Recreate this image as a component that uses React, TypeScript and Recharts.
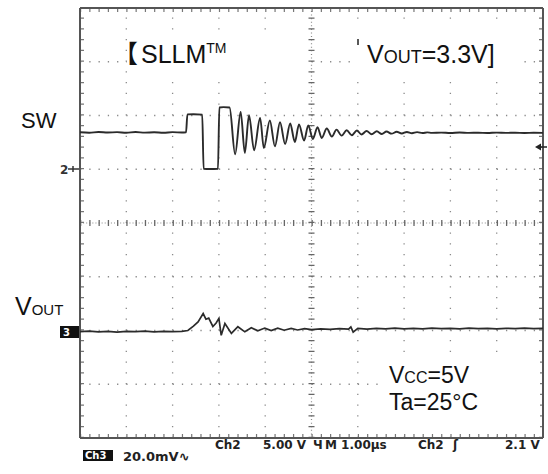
import React from 'react';
import { LineChart, Line, XAxis, YAxis, ReferenceLine } from 'recharts';

// SW trace (Ch2, 5 V/div), time in µs (1 µs/div)
const swTime = [
  0, 0.2, 0.4, 0.6, 0.8, 1.0, 1.2, 1.4, 1.6, 1.8, 2.0, 2.2, 2.29,
  2.32, 2.45, 2.64, 2.67, 2.8, 2.98, 3.01, 3.1, 3.23,
  3.35, 3.47, 3.56, 3.65, 3.76, 3.89, 3.97, 4.1, 4.21, 4.32, 4.43, 4.54, 4.64, 4.73,
  4.84, 4.93, 5.03, 5.13, 5.22, 5.33, 5.44, 5.54, 5.65, 5.76, 5.87, 5.98, 6.08, 6.19,
  6.3, 6.41, 6.52, 6.62, 6.73, 6.84, 6.95, 7.06, 7.17, 7.28, 7.4, 7.5, 7.6,
  7.8, 8.0, 8.2, 8.4, 8.6, 8.8, 9.0, 9.2, 9.4, 9.6, 9.8, 10,
];
const swVolts = [
  3.44, 3.4, 3.47, 3.42, 3.45, 3.39, 3.46, 3.41, 3.44, 3.4, 3.45, 3.42, 3.44,
  5.1, 5.12, 5.08, 0.04, 0.02, 0.05, 5.75, 5.78, 5.74,
  1.4, 5.33, 1.52, 5.02, 1.77, 4.77, 1.98, 4.53, 2.14, 4.37, 2.35, 4.25, 2.54, 4.16,
  2.67, 4.07, 2.82, 3.91, 2.91, 3.79, 3.04, 3.69, 3.13, 3.63, 3.16, 3.6, 3.23, 3.56,
  3.26, 3.53, 3.28, 3.51, 3.31, 3.49, 3.33, 3.47, 3.35, 3.45, 3.37, 3.43, 3.38,
  3.41, 3.37, 3.42, 3.38, 3.4, 3.37, 3.41, 3.38, 3.4, 3.37, 3.4, 3.38,
];

// VOUT trace (Ch3, 20 mV/div, AC)
const voutTime = [
  0, 0.2, 0.4, 0.6, 0.8, 1.0, 1.2, 1.4, 1.6, 1.8, 2.0, 2.2, 2.33,
  2.45, 2.55, 2.66, 2.72, 2.78, 2.87, 2.94, 3.0, 3.05, 3.13, 3.27, 3.41, 3.56,
  3.7, 3.84, 3.99, 4.13, 4.27, 4.41, 4.56, 4.7, 4.85, 5.0, 5.2, 5.4, 5.6, 5.8,
  5.85, 5.9, 6.0, 6.2, 6.4, 6.6, 6.8, 7.0, 7.2, 7.4, 7.6, 7.8, 8.0, 8.2, 8.4,
  8.6, 8.8, 9.0, 9.2, 9.4, 9.6, 9.8, 10,
];
const voutMv = [
  -0.4, -0.2, -0.5, -0.3, -0.6, -0.3, -0.4, -0.2, -0.5, -0.3, -0.4, -0.3, 0.0,
  1.6, 3.2, 6.3, 4.2, 4.6, 1.5, 2.8, 4.5, -1.8, 2.6, -1.1, 1.4, -0.5,
  1.0, -0.1, 0.9, 0.0, 0.9, 0.1, 0.8, 0.2, 0.7, 0.3, 0.6, 0.4, 0.7, 0.5,
  1.3, -0.6, 0.8, 0.5, 0.8, 0.6, 0.9, 0.6, 0.8, 0.6, 0.9, 0.7, 0.8, 0.6, 0.9,
  0.7, 0.8, 0.6, 0.8, 0.7, 0.9, 0.7, 0.8,
];

const gridX = [1, 2, 3, 4, 6, 7, 8, 9];
const gridY = [10, 5, 0, -10, -15, -20];

const swData = swTime.map((t, i) => ({ t, v: swVolts[i] }));
const voutData = voutTime.map((t, i) => ({ t, v: voutMv[i] }));

const sans = '"Liberation Sans", Arial, sans-serif';
const scope = '"DejaVu Sans", sans-serif';

const App = () => {
  return (
    <div style={{ position: 'absolute', left: 0, top: 0, width: 548, height: 474, background: '#fff' }}>
      <LineChart width={548} height={474} margin={{ top: 8, right: 5, bottom: 36, left: 80 }}>
        <XAxis type="number" dataKey="t" domain={[0, 10]} hide allowDataOverflow />
        <YAxis yAxisId="sw" domain={[-25, 15]} hide allowDataOverflow />
        <YAxis yAxisId="vo" domain={[-40, 120]} hide allowDataOverflow />

        {/* dotted graticule */}
        {gridX.map((x) => (
          <ReferenceLine key={'gx' + x} x={x} yAxisId="sw" stroke="#8a8a8a" strokeWidth={1.3} strokeDasharray="1.3 9.45" />
        ))}
        {gridY.map((y) => (
          <ReferenceLine key={'gy' + y} y={y} yAxisId="sw" stroke="#8a8a8a" strokeWidth={1.3} strokeDasharray="1.3 7.96" />
        ))}
        {/* centre cross with minor ticks */}
        <ReferenceLine x={5} yAxisId="sw" stroke="#8a8a8a" strokeWidth={1.2} strokeDasharray="1 2.58" />
        <ReferenceLine y={-5} yAxisId="sw" stroke="#8a8a8a" strokeWidth={1.2} strokeDasharray="1 2.09" />
        <ReferenceLine x={5} yAxisId="sw" stroke="#666" strokeWidth={6} strokeDasharray="1.3 9.45" />
        <ReferenceLine y={-5} yAxisId="sw" stroke="#666" strokeWidth={6} strokeDasharray="1.3 7.96" />
        {/* border ticks */}
        <ReferenceLine y={14.81} yAxisId="sw" stroke="#777" strokeWidth={4} strokeDasharray="1.2 8.06" />
        <ReferenceLine y={-24.81} yAxisId="sw" stroke="#777" strokeWidth={4} strokeDasharray="1.2 8.06" />
        <ReferenceLine x={0.043} yAxisId="sw" stroke="#777" strokeWidth={4} strokeDasharray="1.2 9.55" />
        <ReferenceLine x={9.957} yAxisId="sw" stroke="#777" strokeWidth={4} strokeDasharray="1.2 9.55" />
        {/* border */}
        <ReferenceLine y={15} yAxisId="sw" stroke="#555" strokeWidth={2} />
        <ReferenceLine y={-25} yAxisId="sw" stroke="#555" strokeWidth={2} />
        <ReferenceLine x={0} yAxisId="sw" stroke="#555" strokeWidth={2} />
        <ReferenceLine x={10} yAxisId="sw" stroke="#555" strokeWidth={2} />

        <Line
          yAxisId="sw"
          data={swData}
          dataKey="v"
          type="monotone"
          stroke="#2b2b2b"
          strokeWidth={1.9}
          dot={false}
          isAnimationActive={false}
        />
        <Line
          yAxisId="vo"
          data={voutData}
          dataKey="v"
          type="linear"
          stroke="#2b2b2b"
          strokeWidth={1.7}
          dot={false}
          isAnimationActive={false}
        />
      </LineChart>

      <svg width={548} height={474} style={{ position: 'absolute', left: 0, top: 0, pointerEvents: 'none' }}>
        {/* label backgrounds */}
        <rect x={127} y={35} width={178} height={40} fill="#fff" />
        <rect x={357} y={27} width={166} height={50} fill="#fff" />
        <rect x={384} y={360} width={156} height={70} fill="#fff" />

        <text x={113} y={63} fontFamily='"Noto Sans CJK JP"' fontSize={25} fill="#111">【</text>
        <text x={141} y={63} fontFamily={sans} fontSize={25} fill="#111">
          SLLM<tspan fontSize={14} dy={-10}>TM</tspan>
        </text>
        <line x1={358} y1={39} x2={358} y2={45} stroke="#222" strokeWidth={1.5} />
        <text x={367} y={63} fontFamily={sans} fontSize={25} fill="#111">
          V<tspan fontSize={18}>OUT</tspan>=3.3V]
        </text>

        <text x={21} y={128} fontFamily={sans} fontSize={22} fill="#111">SW</text>
        <text x={15} y={315} fontFamily={sans} fontSize={25} fill="#111">
          V<tspan fontSize={15}>OUT</tspan>
        </text>

        <text x={389} y={383} fontFamily={sans} fontSize={23} fill="#111">
          V<tspan fontSize={16}>CC</tspan>=5V
        </text>
        <text x={389} y={410} fontFamily={sans} fontSize={23} fill="#111">Ta=25°C</text>

        {/* channel markers */}
        <text x={60} y={174} fontFamily={scope} fontSize={12} fontWeight="bold" fill="#333">2</text>
        <line x1={68} y1={169} x2={79} y2={169} stroke="#333" strokeWidth={1.5} />
        <line x1={73} y1={166} x2={73} y2={172} stroke="#333" strokeWidth={1.5} />
        <rect x={60} y={326} width={19} height={12} fill="#111" />
        <text x={63} y={336} fontFamily={scope} fontSize={10} fontWeight="bold" fill="#fff">3</text>
        <polygon points="535,147 541,143.5 541,150.5" fill="#222" />
        <line x1={540} y1={147} x2={547} y2={147} stroke="#222" strokeWidth={1.5} />

        {/* scope readout */}
        <g fontFamily={scope} fontSize={12} fontWeight="bold" fill="#222">
          <text x={215} y={449}>Ch2</text>
          <text x={263} y={449}>5.00 V</text>
          <text x={313} y={449}>Ч</text>
          <text x={325} y={449}>M 1.00µs</text>
          <text x={418} y={449}>Ch2</text>
          <text x={453} y={449}>ʃ</text>
          <text x={505} y={449}>2.1 V</text>
          <rect x={83} y={450} width={30} height={11} fill="#111" />
          <text x={85} y={459} fontSize={10} fill="#fff">Ch3</text>
          <text x={123} y={461} fontSize={13}>20.0mV∿</text>
        </g>
      </svg>
    </div>
  );
};

export default App;
